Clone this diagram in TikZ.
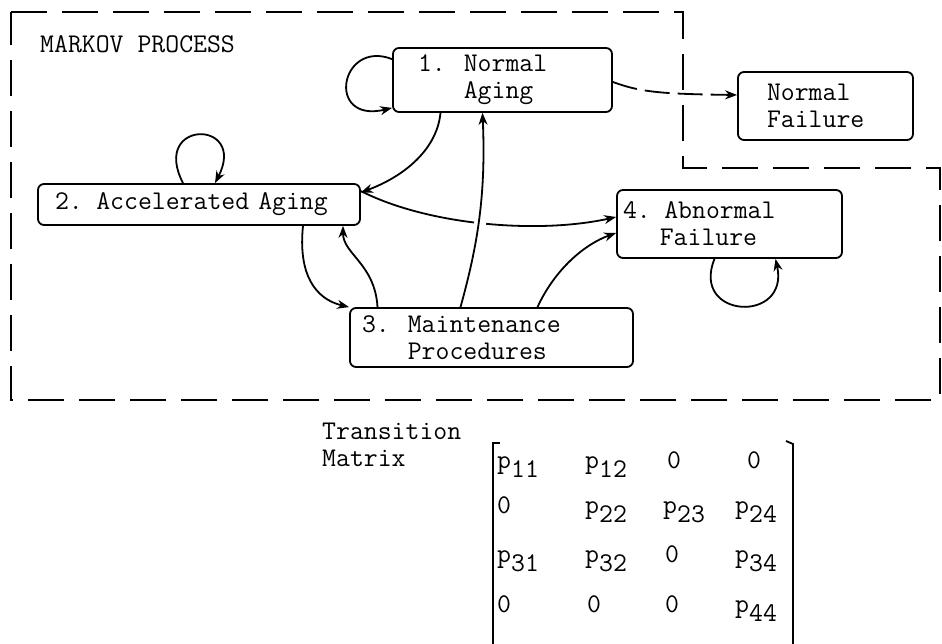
\documentclass[tikz,border=0pt]{standalone}
\usetikzlibrary{arrows.meta}
\newcommand{\pent}[1]{p\raisebox{-9pt}{#1}}
\begin{document}
\begin{tikzpicture}[x=1pt,y=1pt,
    font=\ttfamily\fontsize{27}{27}\selectfont,
    box/.style={draw, line width=1.8pt, rounded corners=6pt, align=left, inner ysep=0pt},
    arr/.style={line width=1.8pt, -{Stealth[length=12pt,width=9pt]}},
    border/.style={line width=1.6pt, dash pattern=on 36pt off 15pt},
    entry/.style={anchor=base west, inner sep=0pt}]
    \useasboundingbox (0,0) rectangle (942,644);
    \draw[border] (11,632) -- (683,632) -- (683,476) -- (940,476) -- (940,244) -- (11,244) -- cycle;
    \node[anchor=base west, inner sep=0pt] (title) at (40,591) {MARKOV PROCESS};
    \node[box, text width=169pt, inner xsep=25pt, minimum height=64pt] (n1) at (502.5,564) {1.\ \ Normal\\\hphantom{1.\ \ }Aging};
    \node[box, text width=117pt, inner xsep=29pt, minimum height=68pt] (nf) at (825.5,538) {Normal\\Failure};
    \node[box, text width=288pt, inner xsep=17pt, minimum height=41pt] (n2) at (199,439.5) {2. Accelerated Aging};
    \node[box, text width=213pt, inner xsep=6pt, minimum height=68pt] (n4) at (729.5,420) {4. Abnormal\\\hphantom{4.\ }Failure};
    \node[box, text width=259pt, inner xsep=12pt, minimum height=59pt] (n3) at (491.5,306.5) {3.\ \ Maintenance\\\hphantom{3.\ \ }Procedures};
    \draw[arr] ([yshift=-12pt]n1.north west) .. controls (340,605) and (325,520) .. ([yshift=5pt]n1.south west);
    \draw[arr] ([xshift=-16pt]n2.north) .. controls (150,525) and (248,525) .. ([xshift=16pt]n2.north);
    \draw[arr] ([xshift=-15pt]n4.south) .. controls (690,325) and (790,320) .. ([xshift=46pt]n4.south);
    \draw[arr] ([xshift=-62pt]n1.south) .. controls (437,495) and (405,468) .. ([yshift=12pt]n2.east);
    \draw[arr] ([xshift=104pt]n2.south) .. controls (298,370) and (315,345) .. (n3.north west);
    \draw[arr] ([xshift=-114pt]n3.north) .. controls (375,380) and (343,390) .. ([xshift=144pt]n2.south);
    \draw[arr] ([yshift=-8pt]n2.north east) .. controls (430,418) and (540,410) .. ([yshift=7pt]n4.west);
    \draw[arr, preaction={draw, white, line width=12pt, arrows=-, shorten <=40pt, shorten >=40pt}] ([xshift=-31pt]n3.north) .. controls (478,400) and (486,450) .. ([xshift=-20pt]n1.south);
    \draw[arr] ([xshift=46pt]n3.north) .. controls (555,375) and (585,400) .. ([yshift=-9pt]n4.west);
    \draw[arr, dash pattern=on 25pt off 8pt] ([yshift=-2pt]n1.east) .. controls (640,552) and (660,550) .. ([yshift=11pt]nf.west);
    \node[anchor=base west, align=left, inner sep=0pt] (tm) at (322,177) {Transition\\Matrix};
    \draw[line width=1.8pt] (500,201) -- (493,201) -- (493,0);
    \draw[line width=1.8pt] (786,203) -- (793,200) -- (793,0);
    \node[entry] (m11) at (497,175) {\pent{11}};
    \node[entry] (m12) at (585,175) {\pent{12}};
    \node[entry] (m13) at (667,175) {0};
    \node[entry] (m14) at (747,175) {0};
    \node[entry] (m21) at (497,130) {0};
    \node[entry] (m22) at (585,130) {\pent{22}};
    \node[entry] (m23) at (663,130) {\pent{23}};
    \node[entry] (m24) at (735,130) {\pent{24}};
    \node[entry] (m31) at (497,81) {\pent{31}};
    \node[entry] (m32) at (585,81) {\pent{32}};
    \node[entry] (m33) at (665,81) {0};
    \node[entry] (m34) at (735,81) {\pent{34}};
    \node[entry] (m41) at (497,31) {0};
    \node[entry] (m42) at (587,31) {0};
    \node[entry] (m43) at (665,31) {0};
    \node[entry] (m44) at (735,31) {\pent{44}};
\end{tikzpicture}
\end{document}
